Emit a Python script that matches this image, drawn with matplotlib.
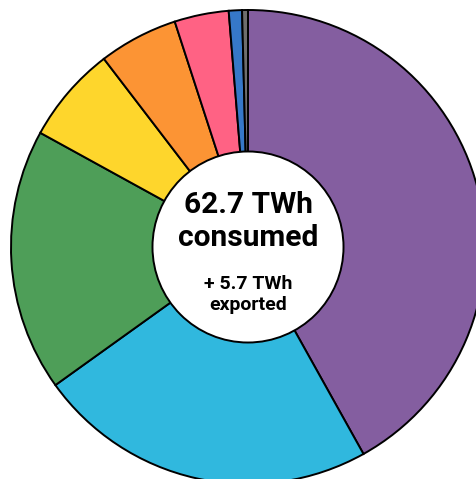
import matplotlib
matplotlib.use("Agg")
import matplotlib.pyplot as plt

# share of electricity by source, clockwise from 12 o'clock (%)
sources = ['Nuclear', 'Hydro', 'Wind', 'Solar', 'Biomass', 'Gas', 'Oil', 'Other']
shares = [41.9, 23.2, 17.9, 6.6, 5.4, 3.7, 0.9, 0.4]
colors = ['#845ea0', '#30b8de', '#4e9e58', '#fed62c', '#fc9434', '#ff6284', '#3678c8', '#6e6e6e']

consumed_label = '62.7 TWh\nconsumed'
exported_label = '+ 5.7 TWh\nexported'

W, H = 477, 479
cx, cy, R = 248, 247, 237

fig = plt.figure(figsize=(W / 100, H / 100), dpi=100)
ax = fig.add_axes([0, 0, 1, 1])

ax.pie(shares, colors=colors, startangle=90, counterclock=False,
       radius=1, wedgeprops=dict(edgecolor='black', linewidth=1.4))

hole = plt.Circle((0, 0), 0.403, facecolor='white', edgecolor='black', linewidth=1.4, zorder=5)
ax.add_patch(hole)

big, small = consumed_label.split('\n'), exported_label.split('\n')
ax.text(0, 0.143, big[0], ha='center', va='baseline', fontsize=21.5,
        fontweight='bold', family='Roboto', zorder=6)
ax.text(0, 0.004, big[1], ha='center', va='baseline', fontsize=21.5,
        fontweight='bold', family='Roboto', zorder=6)
ax.text(0, -0.179, small[0], ha='center', va='baseline', fontsize=14,
        fontweight='bold', family='Roboto', zorder=6)
ax.text(0, -0.266, small[1], ha='center', va='baseline', fontsize=14,
        fontweight='bold', family='Roboto', zorder=6)

ax.set_xlim(-cx / R, (W - cx) / R)
ax.set_ylim(-(H - cy) / R, cy / R)
ax.set_aspect('auto')
ax.axis('off')

fig.savefig('out.png', dpi=100)
